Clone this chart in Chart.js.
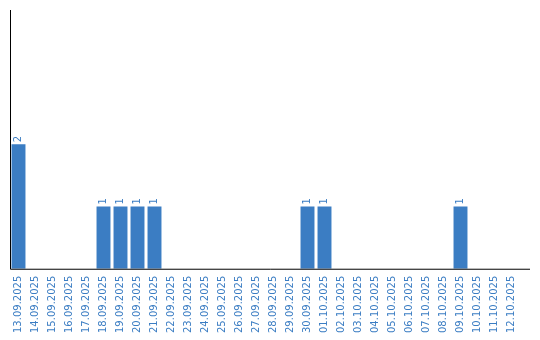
<!DOCTYPE html>
<html>
<head>
<meta charset="utf-8">
<script src="https://cdn.jsdelivr.net/npm/chart.js@4/dist/chart.umd.min.js"></script>
<style>
  body { margin: 0; background: #fff; }
  #wrap { width: 540px; height: 340px; position: relative; }
</style>
</head>
<body>
<div id="wrap"><canvas id="chart"></canvas></div>
<script>
const tanggal = [
  "13.09.2025", "14.09.2025", "15.09.2025", "16.09.2025", "17.09.2025",
  "18.09.2025", "19.09.2025", "20.09.2025", "21.09.2025", "22.09.2025",
  "23.09.2025", "24.09.2025", "25.09.2025", "26.09.2025", "27.09.2025",
  "28.09.2025", "29.09.2025", "30.09.2025", "01.10.2025", "02.10.2025",
  "03.10.2025", "04.10.2025", "05.10.2025", "06.10.2025", "07.10.2025",
  "08.10.2025", "09.10.2025", "10.10.2025", "11.10.2025", "12.10.2025"
];
const jumlah = [
  2, 0, 0, 0, 0,
  1, 1, 1, 1, 0,
  0, 0, 0, 0, 0,
  0, 0, 1, 1, 0,
  0, 0, 0, 0, 0,
  0, 1, 0, 0, 0
];
const yMax = 4.16;

const biru = "#3b7dc3";
const fontLabel = { family: "DejaVu Sans", size: 10 };

// garis sumbu digambar sendiri, sumbu x sedikit lebih panjang dari area
const garisSumbu = {
  id: "garisSumbu",
  afterDraw(chart) {
    const { ctx, chartArea } = chart;
    ctx.save();
    ctx.strokeStyle = "#000";
    ctx.lineWidth = 1;
    ctx.beginPath();
    ctx.moveTo(chartArea.left + 0.5, chartArea.top);
    ctx.lineTo(chartArea.left + 0.5, chartArea.bottom + 0.5);
    ctx.lineTo(chartArea.right + 10, chartArea.bottom + 0.5);
    ctx.stroke();
    ctx.restore();
  },
};

// angka di atas batang, diputar 90 derajat
const labelNilai = {
  id: "labelNilai",
  afterDatasetsDraw(chart) {
    const { ctx } = chart;
    const meta = chart.getDatasetMeta(0);
    ctx.save();
    ctx.fillStyle = biru;
    ctx.font = "10px 'DejaVu Sans'";
    ctx.textAlign = "left";
    ctx.textBaseline = "middle";
    meta.data.forEach((bar, i) => {
      const v = jumlah[i];
      if (!v) return;
      ctx.save();
      ctx.translate(bar.x, bar.y - 2);
      ctx.rotate(-Math.PI / 2);
      ctx.fillText(String(v), 0, 0);
      ctx.restore();
    });
    ctx.restore();
  },
};

new Chart(document.getElementById("chart"), {
  type: "bar",
  data: {
    labels: tanggal,
    datasets: [
      {
        data: jumlah,
        backgroundColor: biru,
        borderWidth: 0,
        barPercentage: 0.82,
        categoryPercentage: 1,
      },
    ],
  },
  options: {
    responsive: true,
    maintainAspectRatio: false,
    animation: false,
    layout: { padding: { left: 10, right: 20, top: 10, bottom: 0 } },
    plugins: {
      legend: { display: false },
      tooltip: { enabled: false },
    },
    scales: {
      x: {
        grid: { display: false, drawTicks: false },
        border: { display: false },
        ticks: {
          color: biru,
          font: fontLabel,
          minRotation: 90,
          maxRotation: 90,
          autoSkip: false,
          padding: 7,
        },
      },
      y: {
        display: false,
        min: 0,
        max: yMax,
      },
    },
  },
  plugins: [garisSumbu, labelNilai],
});
</script>
</body>
</html>
